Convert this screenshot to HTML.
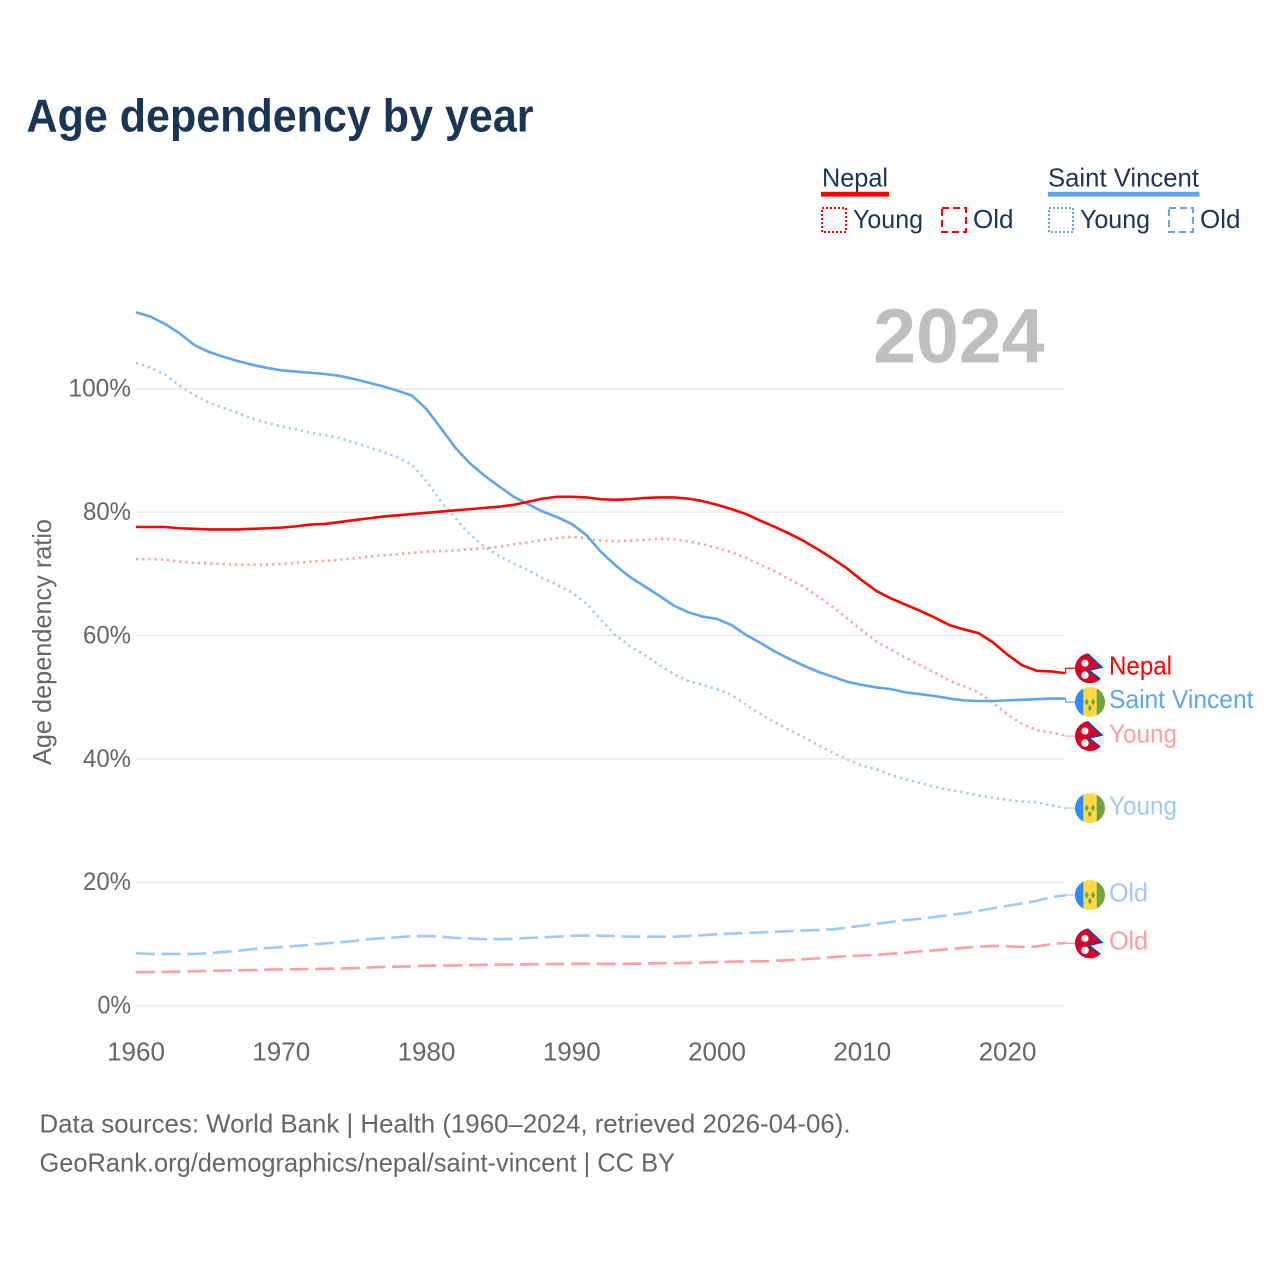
<!DOCTYPE html>
<html lang="en">
<head>
<meta charset="utf-8">
<title>Age dependency by year</title>
<style>
  html, body { margin: 0; padding: 0; background: #ffffff; }
  svg { display: block; font-family: "Liberation Sans", sans-serif; }
</style>
</head>
<body>
<svg id="chart" xmlns="http://www.w3.org/2000/svg" width="1280" height="1280" viewBox="0 0 1280 1280">
  <defs>
    <clipPath id="flag-clip"><circle cx="0" cy="0" r="15"></circle></clipPath>
    <g id="flag-nepal" clip-path="url(#flag-clip)">
      <circle cx="0" cy="0" r="15" fill="#f0f0f0"></circle>
      <path d="M-16,-17 L-3,-15 L12,-1 L-1,2 L13,13 L13,17 L-16,17 Z" fill="#d80027" stroke="#0052b4" stroke-width="1.5"></path>
      <path d="M-16,-17 L-4,-17 L-16,-8 Z" fill="#d80027"></path>
      <circle cx="-5" cy="-5" r="3.6" fill="#f0f0f0"></circle>
      <circle cx="-5" cy="7" r="3.8" fill="#f0f0f0"></circle>
    </g>
    <g id="flag-saint-vincent" clip-path="url(#flag-clip)">
      <rect x="-15" y="-15" width="30" height="30" fill="#ffda44"></rect>
      <rect x="-15" y="-15" width="8.3" height="30" fill="#338af3"></rect>
      <rect x="6.7" y="-15" width="8.3" height="30" fill="#6da544"></rect>
      <path d="M-3.3,-3.5 L-1.2,0 L-3.3,3.5 L-5.4,0 Z" fill="#6da544"></path>
      <path d="M3,-3.5 L5.1,0 L3,3.5 L0.9,0 Z" fill="#6da544"></path>
      <path d="M-0.2,2.5 L1.9,6 L-0.2,9.5 L-2.3,6 Z" fill="#6da544"></path>
    </g>
  </defs>

  <rect x="0" y="0" width="1280" height="1280" fill="#ffffff"></rect>

  <text x="26.5" y="131.7" font-size="46.5" font-weight="700" fill="#1a3556" textLength="507" lengthAdjust="spacingAndGlyphs">Age dependency by year</text>

  <g font-size="26" fill="#1a3556">
    <text x="822" y="186.3" textLength="66" lengthAdjust="spacingAndGlyphs">Nepal</text>
    <rect x="821" y="191.8" width="68" height="4.8" fill="#ff0000"></rect>
    <rect x="822" y="208" width="24" height="24" fill="none" stroke="#ff0000" stroke-width="2" stroke-dasharray="2 2"></rect>
    <text x="853" y="228.2" textLength="70" lengthAdjust="spacingAndGlyphs">Young</text>
    <rect x="942" y="208" width="24" height="24" fill="none" stroke="#ff0000" stroke-width="2" stroke-dasharray="7 4"></rect>
    <text x="973" y="228.2" textLength="40.5" lengthAdjust="spacingAndGlyphs">Old</text>
    <text x="1048" y="186.3" textLength="151" lengthAdjust="spacingAndGlyphs">Saint Vincent</text>
    <rect x="1048" y="191.8" width="151.5" height="4.8" fill="#60a5ee"></rect>
    <rect x="1049" y="208" width="24" height="24" fill="none" stroke="#60a5ee" stroke-width="2" stroke-dasharray="2 2"></rect>
    <text x="1080" y="228.2" textLength="70" lengthAdjust="spacingAndGlyphs">Young</text>
    <rect x="1169" y="208" width="24" height="24" fill="none" stroke="#60a5ee" stroke-width="2" stroke-dasharray="7 4"></rect>
    <text x="1200" y="228.2" textLength="40.5" lengthAdjust="spacingAndGlyphs">Old</text>
  </g>

  <g id="grid"></g>
  <g id="y-ticks" font-size="25" fill="#666666" text-anchor="end"></g>
  <g id="x-ticks" font-size="26" fill="#666666" text-anchor="middle"></g>

  <text transform="translate(51,642) rotate(-90)" text-anchor="middle" font-size="26" fill="#666666" textLength="246" lengthAdjust="spacingAndGlyphs">Age dependency ratio</text>

  <text x="1044.5" y="362.5" text-anchor="end" font-size="77" font-weight="700" fill="#bfbfbf">2024</text>

  <g id="series"></g>
  <g id="end-labels"></g>

  <g font-size="26" fill="#666666">
    <text x="39.5" y="1132.3" textLength="811" lengthAdjust="spacingAndGlyphs">Data sources: World Bank | Health (1960–2024, retrieved 2026-04-06).</text>
    <text x="39.5" y="1171.3" textLength="635.5" lengthAdjust="spacingAndGlyphs">GeoRank.org/demographics/nepal/saint-vincent | CC BY</text>
  </g>
</svg>

<script>
const years = [1960,1961,1962,1963,1964,1965,1966,1967,1968,1969,1970,1971,1972,1973,1974,1975,1976,1977,1978,1979,1980,1981,1982,1983,1984,1985,1986,1987,1988,1989,1990,1991,1992,1993,1994,1995,1996,1997,1998,1999,2000,2001,2002,2003,2004,2005,2006,2007,2008,2009,2010,2011,2012,2013,2014,2015,2016,2017,2018,2019,2020,2021,2022,2023,2024];

const nepalTotal = [77.6,77.6,77.6,77.4,77.3,77.2,77.2,77.2,77.3,77.4,77.5,77.7,78.0,78.1,78.4,78.7,79.0,79.3,79.5,79.7,79.9,80.1,80.3,80.5,80.7,80.9,81.2,81.7,82.2,82.5,82.5,82.4,82.1,82.0,82.1,82.3,82.4,82.4,82.2,81.8,81.2,80.5,79.7,78.6,77.6,76.5,75.3,73.9,72.4,70.8,68.9,67.2,66.0,65.0,64.0,62.9,61.7,61.0,60.4,58.9,56.9,55.2,54.3,54.2,53.9];

const nepalYoung = [72.4,72.4,72.3,72.0,71.8,71.7,71.6,71.5,71.5,71.5,71.6,71.8,72.0,72.1,72.3,72.5,72.8,73.0,73.2,73.4,73.6,73.7,73.8,74.0,74.2,74.4,74.8,75.1,75.5,75.8,76.0,75.8,75.4,75.3,75.4,75.5,75.7,75.6,75.3,74.8,74.2,73.5,72.6,71.5,70.4,69.1,67.9,66.3,64.6,62.7,60.8,59.0,57.7,56.4,55.2,54.0,52.7,51.8,50.8,49.1,47.2,45.7,44.7,44.3,43.8];

const nepalOld = [5.45,5.47,5.5,5.55,5.6,5.65,5.7,5.75,5.8,5.85,5.9,5.92,5.95,6.0,6.05,6.1,6.2,6.3,6.35,6.4,6.5,6.52,6.55,6.6,6.65,6.68,6.7,6.72,6.75,6.78,6.8,6.8,6.8,6.8,6.8,6.85,6.9,6.9,6.95,7.0,7.1,7.15,7.2,7.2,7.3,7.4,7.55,7.7,7.9,8.05,8.15,8.25,8.45,8.6,8.85,9.0,9.2,9.4,9.6,9.7,9.65,9.55,9.6,10.0,10.2];

const svTotal = [112.4,111.7,110.5,109.0,107.1,106.0,105.2,104.5,103.9,103.4,103.0,102.8,102.6,102.4,102.1,101.6,101.0,100.4,99.7,98.9,96.7,93.6,90.4,87.9,85.9,84.2,82.5,81.3,80.1,79.2,78.1,76.3,73.6,71.4,69.5,68.0,66.5,64.9,63.8,63.1,62.7,61.7,60.1,58.8,57.4,56.2,55.1,54.1,53.3,52.5,52.0,51.6,51.3,50.8,50.5,50.2,49.8,49.5,49.4,49.4,49.5,49.6,49.7,49.8,49.8];

const svYoung = [104.2,103.4,102.3,100.5,99.0,97.8,96.9,96.1,95.2,94.5,93.9,93.4,92.9,92.5,92.0,91.3,90.5,89.8,88.9,87.7,85.0,81.7,79.0,76.3,74.4,72.9,71.7,70.6,69.3,68.2,67.0,65.2,62.6,60.1,58.3,56.9,55.3,53.8,52.7,52.0,51.3,50.4,48.8,47.3,45.9,44.7,43.5,42.2,41.0,39.9,38.9,38.3,37.4,36.7,36.1,35.5,35.0,34.6,34.1,33.7,33.4,33.1,33.0,32.5,32.0];

const svOld = [8.5,8.4,8.4,8.4,8.4,8.5,8.75,8.9,9.2,9.35,9.5,9.7,9.9,10.1,10.3,10.5,10.8,10.97,11.1,11.3,11.3,11.2,11.0,10.9,10.8,10.8,10.85,11.0,11.1,11.2,11.35,11.4,11.35,11.3,11.2,11.2,11.2,11.2,11.3,11.45,11.6,11.7,11.8,11.9,12.0,12.1,12.2,12.3,12.4,12.7,13.0,13.3,13.6,13.9,14.1,14.4,14.7,15.0,15.4,15.8,16.2,16.6,17.0,17.6,17.9];

const yTickValues = [0,20,40,60,80,100];
const yTickLabels = ['0%','20%','40%','60%','80%','100%'];
const xTickValues = [1960,1970,1980,1990,2000,2010,2020];
const xTickLabels = ['1960','1970','1980','1990','2000','2010','2020'];

const NS = 'http://www.w3.org/2000/svg';
function xScale(year) { return 136 + (year - 1960) * 14.525; }
function yScale(value) { return 1005.8 - value * 6.17; }
function make(tag, attrs, parent) {
  const el = document.createElementNS(NS, tag);
  for (const key in attrs) { el.setAttribute(key, attrs[key]); }
  parent.appendChild(el);
  return el;
}

const gridGroup = document.getElementById('grid');
const yTickGroup = document.getElementById('y-ticks');
yTickValues.forEach(function (value, i) {
  const y = yScale(value);
  const line = make('line', { x1: 136, x2: 1065, y1: y, y2: y, stroke: '#e8e8e8', 'stroke-width': 1.3 }, gridGroup);
  
  
  const label = make('text', { x: 131, y: y + 7.8, textLength: (yTickLabels[i].length - 1) * 14.5 + 19, lengthAdjust: 'spacingAndGlyphs' }, yTickGroup);
  
  
  label.textContent = yTickLabels[i];
});

const xTickGroup = document.getElementById('x-ticks');
xTickValues.forEach(function (year, i) {
  const label = make('text', { x: xScale(year), y: 1060.5 }, xTickGroup);
  
  
  label.textContent = xTickLabels[i];
});

const seriesList = [
  { key: 'nepal-old', values: nepalOld, color: '#ff9f9f', dash: '19 6.6', label: 'Old', width: 39, flag: '#flag-nepal', nudge: 0.5 },
  { key: 'saint-vincent-old', values: svOld, color: '#9fc9f4', dash: '19 6.6', label: 'Old', width: 39, flag: '#flag-saint-vincent', nudge: -0.3 },
  { key: 'saint-vincent-young', values: svYoung, color: '#9fc9f4', dash: '2.2 4', label: 'Young', width: 68, flag: '#flag-saint-vincent', nudge: -0.3 },
  { key: 'nepal-young', values: nepalYoung, color: '#ff9f9f', dash: '2.2 4', label: 'Young', width: 68, flag: '#flag-nepal', nudge: 0.5 },
  { key: 'saint-vincent-total', values: svTotal, color: '#60a5ee', dash: '', label: 'Saint Vincent', width: 144.5, flag: '#flag-saint-vincent', nudge: 3.5 },
  { key: 'nepal-total', values: nepalTotal, color: '#ff0000', dash: '', label: 'Nepal', width: 63, flag: '#flag-nepal', nudge: -5 }
];

const seriesGroup = document.getElementById('series');
const labelGroup = document.getElementById('end-labels');
seriesList.forEach(function (s) {
  const d = s.values.map(function (v, i) {
    return (i ? 'L' : 'M') + xScale(years[i]).toFixed(2) + ',' + yScale(v).toFixed(2);
  }).join(' ');
  const attrs = { d: d, fill: 'none', stroke: s.color, 'stroke-width': 2.6, 'stroke-linejoin': 'round' };
  if (s.dash) { attrs['stroke-dasharray'] = s.dash; }
  const path = make('path', attrs, seriesGroup);
  
  

  const lastY = yScale(s.values[s.values.length - 1]);
  const labelY = lastY + s.nudge;
  const lastX = xScale(years[years.length - 1]);
  const connector = make('path', { d: 'M' + lastX + ',' + lastY + ' V' + labelY + ' H1075', fill: 'none', stroke: s.color, 'stroke-width': 1.2 }, labelGroup);
  
  

  const flag = make('use', { href: s.flag, transform: 'translate(1090,' + labelY + ')' }, labelGroup);
  
  

  const text = make('text', { x: 1109, y: labelY + 6.2, 'font-size': 26, fill: s.color, textLength: s.width, lengthAdjust: 'spacingAndGlyphs' }, labelGroup);
  
  
  text.textContent = s.label;
});
</script>
</body>
</html>
